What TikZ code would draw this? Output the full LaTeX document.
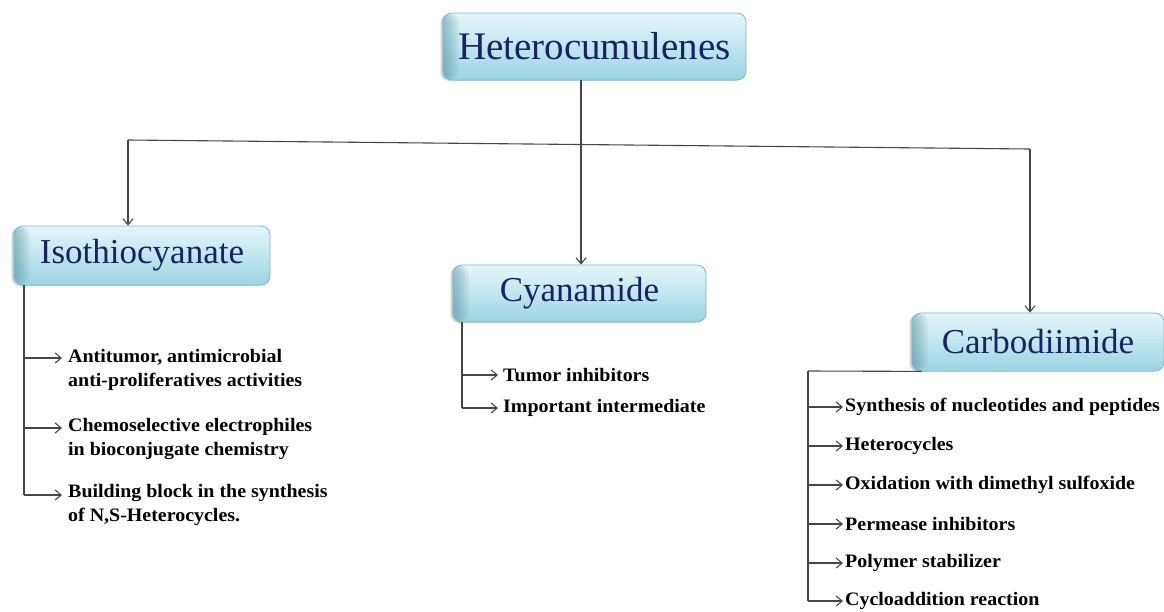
\documentclass[tikz,border=0pt]{standalone}
\usepackage{fontspec}
\setmainfont{Liberation Serif}
\newfontfamily\itemfont[FakeStretch=1.05]{Liberation Serif}
\usetikzlibrary{arrows.meta,shadows}
\definecolor{navy}{RGB}{25,35,95}
\definecolor{boxtop}{RGB}{228,247,251}
\definecolor{boxbot}{RGB}{155,212,227}
\definecolor{boxedge}{RGB}{120,185,205}
\definecolor{bevel}{RGB}{70,130,150}
\definecolor{linec}{RGB}{70,70,70}
\tikzset{
  hbox/.style={draw=boxedge, line width=0.8pt, rounded corners=9pt,
    top color=boxtop, bottom color=boxbot, text=navy, inner sep=0pt,
    path picture={\foreach \w in {2,4,...,16}
      \fill[bevel, opacity=0.07]
      (path picture bounding box.south west) rectangle ([xshift=\w pt]path picture bounding box.north west);},
    drop shadow={shadow xshift=-2.5pt, shadow yshift=-1pt, fill=black!40, opacity=0.45}},
  conn/.style={draw=linec, line width=1.1pt},
  arr/.style={conn, -{Straight Barb[length=6pt,width=10pt]}},
  item/.style={inner sep=0pt, font=\itemfont\bfseries\fontsize{19}{24}\selectfont, align=left, anchor=west},
}
\begin{document}
\begin{tikzpicture}[x=1pt,y=-1pt]
\useasboundingbox (0,0) rectangle (1164,611);
% main boxes
\node[hbox, minimum width=303pt, minimum height=67pt, font=\fontsize{39}{42}\selectfont] (het) at (594.5,46.5) {Heterocumulenes};
\node[hbox, minimum width=256pt, minimum height=59pt, font=\fontsize{35}{38}\selectfont] (iso) at (142,255.5) {Isothiocyanate};
\node[hbox, minimum width=253pt, minimum height=57pt, font=\fontsize{35}{38}\selectfont] (cya) at (579.5,293.5) {Cyanamide};
\node[hbox, minimum width=252pt, minimum height=58pt, font=\fontsize{35}{38}\selectfont] (car) at (1038,342) {Carbodiimide};
% trunk
\coordinate (t0) at (581,80);
\coordinate (tj) at (581,144.5);
\coordinate (tl) at (128,140);
\coordinate (tr) at (1030,149);
\draw[conn] (t0) -- (tj);
\draw[conn] (tl) -- (tr);
\draw[arr] (tl) -- (tl |- iso.north);
\draw[arr] (tj) -- (tj |- cya.north);
\draw[arr] (tr) -- (tr |- car.north);
% Isothiocyanate items
\coordinate (iv0) at (24,285);
\node[item, anchor=north west] (i1) at (68,349) {Antitumor, antimicrobial\\anti-proliferatives activities};
\node[item, anchor=north west] (i2) at (68,418) {Chemoselective electrophiles\\in bioconjugate chemistry};
\node[item, anchor=north west] (i3) at (68,484) {Building block in the synthesis\\of N,S-Heterocycles.};
\coordinate (ia1) at (62,358);
\coordinate (ia2) at (62,428);
\coordinate (ia3) at (62,495);
\draw[conn] (iv0) -- (iv0 |- ia3);
\draw[arr] (iv0 |- ia1) -- (ia1);
\draw[arr] (iv0 |- ia2) -- (ia2);
\draw[arr] (iv0 |- ia3) -- (ia3);
% Cyanamide items
\coordinate (cv0) at (462,322);
\node[item] (c1) at (503,375) {Tumor inhibitors};
\node[item] (c2) at (503,408) {Important intermediate};
\draw[conn] (cv0) -- (cv0 |- c2.west);
\draw[arr] (cv0 |- c1.west) -- ([xshift=-5pt]c1.west);
\draw[arr] (cv0 |- c2.west) -- ([xshift=-5pt]c2.west);
% Carbodiimide items
\coordinate (kv0) at (808,371);
\draw[conn] (car.south west) ++(10pt,0) -- (kv0);
\node[item] (k1) at (845,407) {Synthesis of nucleotides and peptides};
\node[item] (k2) at (845,446) {Heterocycles};
\node[item] (k3) at (845,485) {Oxidation with dimethyl sulfoxide};
\node[item] (k4) at (845,524) {Permease inhibitors};
\node[item] (k5) at (845,563) {Polymer stabilizer};
\node[item] (k6) at (845,601) {Cycloaddition reaction};
\draw[conn] (kv0) -- (kv0 |- k6.west);
\foreach \k in {k1,k2,k3,k4,k5,k6}
  \draw[arr] (kv0 |- \k.west) -- ([xshift=-2pt]\k.west);
\end{tikzpicture}
\end{document}
